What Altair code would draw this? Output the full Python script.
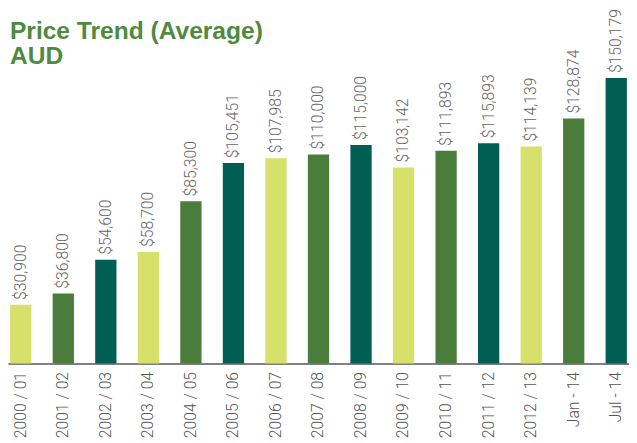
import altair as alt
import pandas as pd

periods = ["2000 / 01", "2001 / 02", "2002 / 03", "2003 / 04", "2004 / 05",
           "2005 / 06", "2006 / 07", "2007 / 08", "2008 / 09", "2009 / 10",
           "2010 / 11", "2011 / 12", "2012 / 13", "Jan - 14", "Jul - 14"]
prices = [30900, 36800, 54600, 58700, 85300, 105451, 107985, 110000, 115000,
          103142, 111893, 115893, 114139, 128874, 150179]
shades = ["a", "b", "c"] * 5
shade_colors = ["#d6e06b", "#4a7d3b", "#005e52"]

df = pd.DataFrame({"period": periods, "price": prices, "shade": shades})

x = alt.X("period:N", sort=periods, title=None,
          scale=alt.Scale(paddingInner=0.5, paddingOuter=0.05),
          axis=alt.Axis(labelAngle=270, labelFont="Roboto", labelFontWeight=300,
                        labelFontSize=16, labelColor="#555555", labelPadding=8,
                        ticks=False, domainColor="#808080", domainWidth=2))
y = alt.Y("price:Q", scale=alt.Scale(domain=[0, 185000], nice=False), axis=None)

bars = alt.Chart(df).mark_bar().encode(
    x=x, y=y,
    color=alt.Color("shade:N", scale=alt.Scale(domain=["a", "b", "c"], range=shade_colors), legend=None),
)
labels = alt.Chart(df).mark_text(angle=270, align="left", baseline="middle", dx=5,
                                 font="Roboto", fontWeight=300, fontSize=16,
                                 color="#666666").encode(
    x=x, y=y, text=alt.Text("price:Q", format="$,.0f"))

chart = alt.layer(bars, labels).properties(
    width=632, height=358,
    title=alt.TitleParams(text=["Price Trend (Average)", "AUD"], anchor="start",
                          frame="group", orient="top", baseline="top",
                          offset=-61, dx=2, font="Liberation Sans", fontSize=25,
                          fontWeight="bold", color="#4f8a3f", lineHeight=26),
    autosize=alt.AutoSizeParams(type="none"),
    padding={"left": 0, "top": 0, "right": 0, "bottom": 77},
).configure_view(stroke=None)

chart.save("out.html", embed_options={"renderer": "svg", "actions": False})
